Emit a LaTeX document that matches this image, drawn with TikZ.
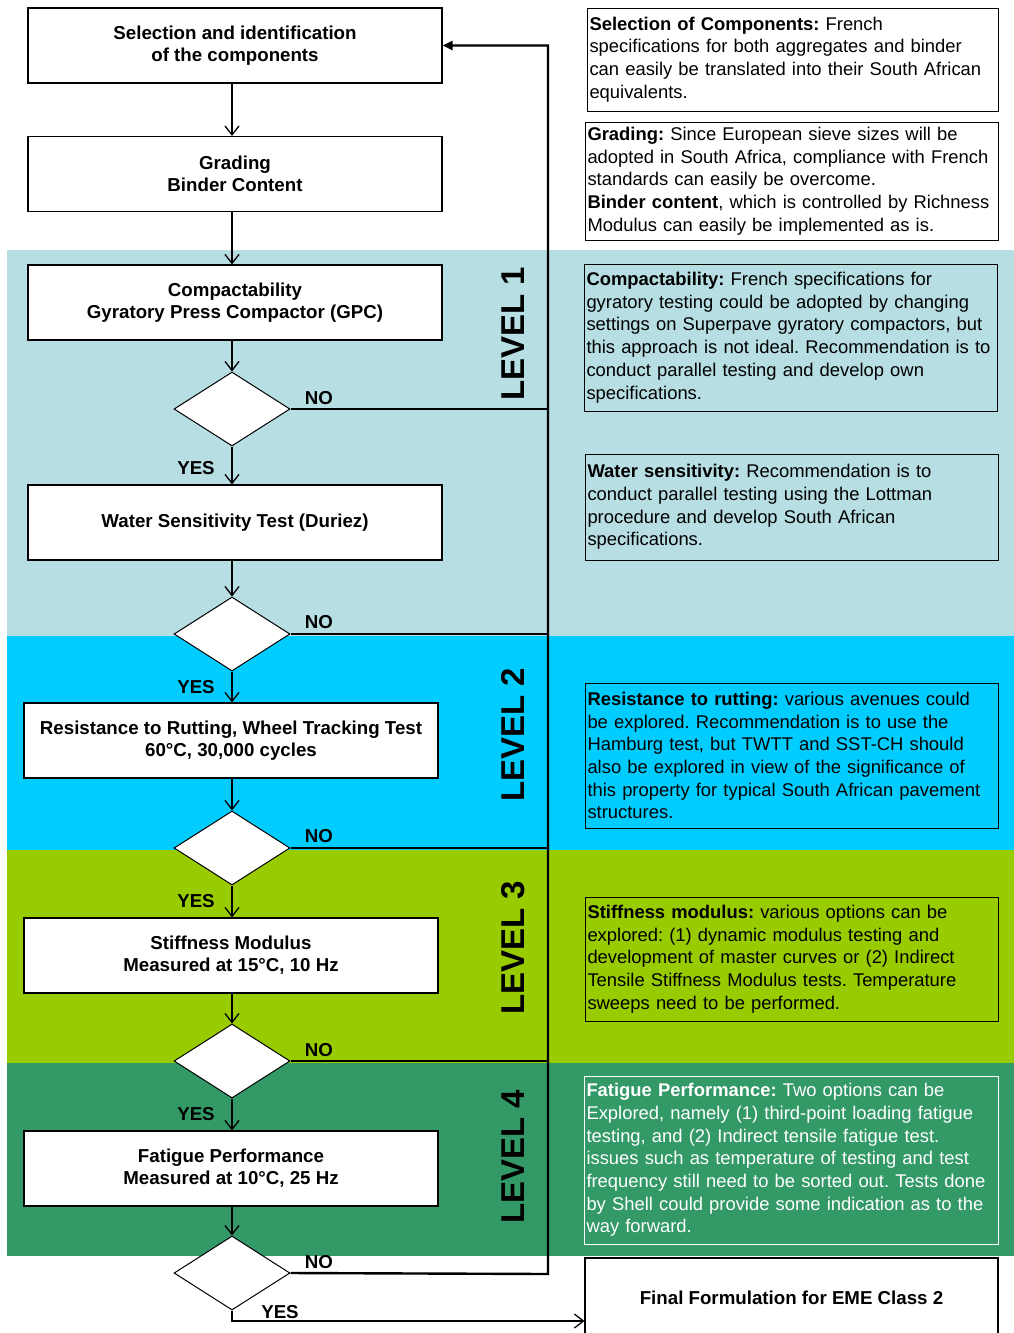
\documentclass[tikz,border=0pt]{standalone}
\usepackage{fontspec}
\setmainfont{Liberation Sans}
\usetikzlibrary{arrows.meta,shapes.geometric}
\definecolor{lvA}{HTML}{B7DEE3}
\definecolor{lvB}{HTML}{00CCFF}
\definecolor{lvC}{HTML}{99CC00}
\definecolor{lvD}{HTML}{339966}
\frenchspacing
\begin{document}
\begin{tikzpicture}[x=1pt,y=-1pt,
  flowbox/.style={draw, fill=white, line width=1.1pt, minimum width=414pt, minimum height=75pt,
    font=\fontsize{18.7}{22}\selectfont\bfseries, align=center, inner sep=0pt},
  decision/.style={diamond, draw, fill=white, line width=1pt, minimum width=116pt, minimum height=74pt, inner sep=0pt},
  rbox/.style={draw, line width=1pt, align=left, inner xsep=2.5pt, inner ysep=0pt,
    font=\fontsize{18.4}{22.7}\selectfont},
  lbl/.style={font=\fontsize{18.7}{20}\selectfont\bfseries, inner sep=0pt},
  lvl/.style={rotate=90, font=\fontsize{33}{35}\selectfont\bfseries, inner sep=0pt},
  arr/.style={line width=1.3pt, -{Straight Barb[length=9pt,width=14pt,line width=1.3pt]}},
  fbline/.style={line width=2.4pt},
]
\useasboundingbox (0,0) rectangle (1014,1333);
\clip (0,0) rectangle (1014,1333);
% level bands
\fill[lvA] (7,250) rectangle (1014,636);
\fill[lvB] (7,636) rectangle (1014,850);
\fill[lvC] (7,850) rectangle (1014,1063);
\fill[lvD] (7,1063) rectangle (1014,1256);

% flow boxes
\node[flowbox] (b1) at (235,45.5) {Selection and identification\\of the components};
\node[flowbox] (b2) at (235,174) {Grading\\Binder Content};
\node[flowbox] (b3) at (235,302.5) {Compactability\\Gyratory Press Compactor (GPC)};
\node[decision] (d1) at (232,409) {};
\node[flowbox] (b4) at (235,522.5) {Water Sensitivity Test (Duriez)};
\node[decision] (d2) at (232,634) {};
\node[flowbox] (b5) at (231,740.5) {Resistance to Rutting, Wheel Tracking Test\\60°C, 30,000 cycles};
\node[decision] (d3) at (232,848) {};
\node[flowbox] (b6) at (231,955.5) {Stiffness Modulus\\Measured at 15°C, 10 Hz};
\node[decision] (d4) at (232,1061) {};
\node[flowbox] (b7) at (231,1168.5) {Fatigue Performance\\Measured at 10°C, 25 Hz};
\node[decision] (d5) at (232,1273) {};
\node[flowbox, minimum width=413pt, minimum height=80pt] (fin) at (791.5,1298) {Final Formulation for EME Class 2};

% down arrows
\draw[arr] (b1.south -| d1.north) -- (b2.north -| d1.north);
\draw[arr] (b2.south -| d1.north) -- (b3.north -| d1.north);
\draw[arr] (b3.south -| d1.north) -- (d1.north);
\draw[arr] (d1.south) -- (b4.north -| d1.south);
\draw[arr] (b4.south -| d2.north) -- (d2.north);
\draw[arr] (d2.south) -- (b5.north -| d2.south);
\draw[arr] (b5.south -| d3.north) -- (d3.north);
\draw[arr] (d3.south) -- (b6.north -| d3.south);
\draw[arr] (b6.south -| d4.north) -- (d4.north);
\draw[arr] (d4.south) -- (b7.north -| d4.south);
\draw[arr] (b7.south -| d5.north) -- (d5.north);

% feedback
\coordinate (fb) at (548,1274);
\draw[fbline, -{Triangle[length=10pt,width=9pt]}] (d5.east) -- (fb) |- (b1.east);
\draw[fbline] (d1.east) -- (d1.east -| fb);
\draw[fbline] (d2.east) -- (d2.east -| fb);
\draw[fbline] (d3.east) -- (d3.east -| fb);
\draw[fbline] (d4.east) -- (d4.east -| fb);

% final yes
\coordinate (yb) at (232,1321);
\draw[line width=1.3pt, -{Straight Barb[length=9pt,width=14pt,line width=1.3pt]}] (d5.south) -- (yb) -- (yb -| fin.west);

% labels
\node[lbl] (no1) at (319,398) {NO};
\node[lbl] (no2) at (319,622) {NO};
\node[lbl] (no3) at (319,836) {NO};
\node[lbl] (no4) at (319,1050) {NO};
\node[lbl] (no5) at (319,1262) {NO};
\node[lbl] (y1) at (196,468) {YES};
\node[lbl] (y2) at (196,687) {YES};
\node[lbl] (y3) at (196,901) {YES};
\node[lbl] (y4) at (196,1114) {YES};
\node[lbl] (y5) at (280,1312) {YES};

\node[lvl] (l1) at (513,334) {LEVEL 1};
\node[lvl] (l2) at (513,735) {LEVEL 2};
\node[lvl] (l3) at (513,948) {LEVEL 3};
\node[lvl] (l4) at (513,1157) {LEVEL 4};

% right boxes
\node[rbox, text width=406pt, minimum height=103pt] (r1) at (792.5,59.5)
 {\textbf{Selection of Components:} French\\specifications for both aggregates and binder\\can easily be translated into their South African\\equivalents.};
\node[rbox, text width=408pt, minimum height=118pt] (r2) at (791.5,181)
 {\textbf{Grading:} Since European sieve sizes will be\\adopted in South Africa, compliance with French\\standards can easily be overcome.\\\textbf{Binder content}, which is controlled by Richness\\Modulus can easily be implemented as is.};
\node[rbox, text width=408pt, minimum height=147pt] (r3) at (790.5,337.5)
 {\textbf{Compactability:} French specifications for\\gyratory testing could be adopted by changing\\settings on Superpave gyratory compactors, but\\this approach is not ideal. Recommendation is to\\conduct parallel testing and develop own\\specifications.};
\node[rbox, text width=408pt, minimum height=106pt] (r4) at (791.5,507)
 {\textbf{Water sensitivity:} Recommendation is to\\conduct parallel testing using the Lottman\\procedure and develop South African\\specifications.};
\node[rbox, text width=408pt, minimum height=145pt] (r5) at (791.5,755.5)
 {\textbf{Resistance to rutting:} various avenues could\\be explored. Recommendation is to use the\\Hamburg test, but TWTT and SST-CH should\\also be explored in view of the significance of\\this property for typical South African pavement\\structures.};
\node[rbox, text width=408pt, minimum height=124pt] (r6) at (791.5,959)
 {\textbf{Stiffness modulus:} various options can be\\explored: (1) dynamic modulus testing and\\development of master curves or (2) Indirect\\Tensile Stiffness Modulus tests. Temperature\\sweeps need to be performed.};
\node[rbox, draw=white, text=white, text width=409pt, minimum height=168pt] (r7) at (791,1160)
 {\textbf{Fatigue Performance:} Two options can be\\Explored, namely (1) third-point loading fatigue\\testing, and (2) Indirect tensile fatigue test.\\issues such as temperature of testing and test\\frequency still need to be sorted out. Tests done\\by Shell could provide some indication as to the\\way forward.};
\end{tikzpicture}
\end{document}
